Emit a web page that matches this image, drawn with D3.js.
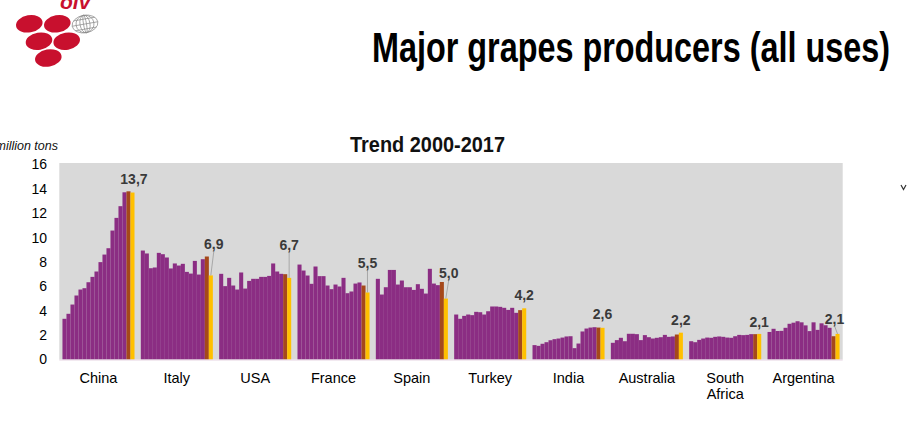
<!DOCTYPE html>
<html>
<head>
<meta charset="utf-8">
<script src="https://cdn.jsdelivr.net/npm/d3@7/dist/d3.min.js"></script>
<style>
  html, body { margin: 0; padding: 0; background: #ffffff; }
  svg { display: block; }
</style>
</head>
<body>
<svg id="chart" width="908" height="428"></svg>
<script>
// ---------- DATA ----------
const countries = ["China", "Italy", "USA", "France", "Spain", "Turkey", "India", "Australia", "South Africa", "Argentina"];
const years = [2000, 2001, 2002, 2003, 2004, 2005, 2006, 2007, 2008, 2009, 2010, 2011, 2012, 2013, 2014, 2015, 2016, 2017];
const yTicks = [0, 2, 4, 6, 8, 10, 12, 14, 16];

const china       = [3.34, 3.75, 4.51, 5.25, 5.74, 5.85, 6.34, 6.78, 7.22, 7.99, 8.61, 9.13, 10.58, 11.62, 12.58, 13.72, 13.80, 13.7];
const italy       = [8.94, 8.70, 7.49, 7.55, 8.75, 8.64, 8.37, 7.47, 7.88, 7.71, 7.85, 7.19, 7.05, 8.09, 6.97, 8.23, 8.45, 6.9];
const usa         = [7.03, 6.02, 6.70, 6.07, 5.74, 7.14, 5.82, 6.45, 6.62, 6.62, 6.78, 6.78, 6.86, 7.88, 7.22, 7.03, 7.00, 6.7];
const france      = [7.79, 7.30, 6.89, 6.21, 7.63, 6.84, 6.84, 6.07, 5.77, 6.15, 5.99, 6.70, 5.44, 5.58, 6.23, 6.32, 6.07, 5.5];
const spain       = [6.62, 5.33, 5.93, 7.35, 7.35, 6.15, 6.48, 5.93, 5.93, 5.71, 6.18, 5.80, 5.41, 7.44, 6.23, 6.10, 6.36, 5.0];
const turkey      = [3.69, 3.34, 3.58, 3.69, 3.64, 3.91, 3.88, 3.69, 3.96, 4.35, 4.35, 4.32, 4.24, 4.07, 4.24, 3.83, 4.05, 4.2];
const india       = [1.18, 1.12, 1.29, 1.42, 1.58, 1.67, 1.72, 1.80, 1.89, 1.91, 0.93, 1.31, 2.30, 2.54, 2.62, 2.65, 2.62, 2.6];
const australia   = [1.37, 1.59, 1.78, 1.50, 2.11, 2.11, 2.08, 1.59, 2.00, 1.83, 1.72, 1.78, 1.83, 2.02, 1.86, 1.89, 2.05, 2.2];
const southAfrica = [1.50, 1.42, 1.61, 1.72, 1.80, 1.78, 1.86, 1.89, 1.86, 1.80, 1.78, 1.91, 2.02, 2.00, 2.02, 2.08, 2.08, 2.1];
const argentina   = [2.26, 2.52, 2.34, 2.35, 2.60, 2.93, 3.02, 3.14, 3.05, 2.80, 2.33, 3.05, 2.43, 2.97, 2.81, 2.60, 1.91, 2.1];

const seriesByCountry = [china, italy, usa, france, spain, turkey, india, australia, southAfrica, argentina];

// ---------- LAYOUT / STYLE ----------
const plot = { left: 59.3, right: 842.7, top: 163, bottom: 359.5 };
const COL_PURPLE = "#8B2D83", COL_BROWN = "#A5481B", COL_YELLOW = "#FFC000", COL_BG = "#D9D9D9";
const FONT = "'Liberation Sans', Arial, Helvetica, sans-serif";
// label placement (layout only): horizontal nudge, lift above the 2017 bar top, leader line flag
const labelDx   = [1.5, 3, 0, 0, 3, 0, 0, 0, 0, -3];
const labelLift = [14, 31, 33, 29, 26, 13, 14, 13, 12, 15];
const labelLead = [false, true, true, true, true, false, false, false, false, true];

const svg = d3.select("#chart");

// ---------- LOGO ----------
const logo = svg.append("g");
const red = "#C8102E";
[[29.3, 23.8], [57.3, 23.8], [39, 41.2], [66.7, 41.2], [48.3, 58]].forEach(c => {
  logo.append("ellipse")
    .attr("cx", c[0]).attr("cy", c[1]).attr("rx", 13.4).attr("ry", 8.6)
    .attr("transform", `rotate(-10 ${c[0]} ${c[1]})`)
    .attr("fill", red);
});
const globe = logo.append("g").attr("fill", "none").attr("stroke", "#8a8a8a").attr("stroke-width", 0.7)
  .attr("transform", "rotate(-10 85 24)");
globe.append("ellipse").attr("cx", 85).attr("cy", 24).attr("rx", 13).attr("ry", 8.8);
[9, 5, 1.5].forEach(r => globe.append("ellipse").attr("cx", 85).attr("cy", 24).attr("rx", r).attr("ry", 8.8));
[-5, 0, 5].forEach(d => {
  const hw = 13 * Math.sqrt(1 - (d / 8.8) ** 2);
  globe.append("line").attr("x1", 85 - hw).attr("x2", 85 + hw).attr("y1", 24 + d).attr("y2", 24 + d);
});
logo.append("text").attr("x", 60).attr("y", 9)
  .attr("font-family", FONT).attr("font-style", "italic").attr("font-weight", "bold")
  .attr("font-size", 21).attr("fill", red).text("oiv");

// small mark at right edge
svg.append("path").attr("d", "M901,185 L903.5,189.5 L906,185").attr("fill", "none")
  .attr("stroke", "#333").attr("stroke-width", 1.2);

// ---------- TITLES ----------
svg.append("text").attr("x", 372).attr("y", 62)
  .attr("font-family", "'Liberation Sans Narrow', " + FONT).attr("font-weight", "bold")
  .attr("font-size", 42).attr("fill", "#000")
  .attr("textLength", 518).attr("lengthAdjust", "spacingAndGlyphs")
  .text("Major grapes producers (all uses)");

svg.append("text").attr("x", 350).attr("y", 152)
  .attr("font-family", "'Liberation Sans Narrow', " + FONT).attr("font-weight", "bold")
  .attr("font-size", 22).attr("fill", "#111")
  .attr("textLength", 155).attr("lengthAdjust", "spacingAndGlyphs")
  .text("Trend 2000-2017");

svg.append("text").attr("x", 58).attr("y", 150)
  .attr("text-anchor", "end").attr("font-family", FONT).attr("font-style", "italic")
  .attr("font-size", 12.5).attr("fill", "#111").text("million tons");

// ---------- SCALES ----------
const x = d3.scaleBand().domain(countries).range([plot.left, plot.right])
  .paddingInner(0.081).paddingOuter(0.0405);
const xi = d3.scaleBand().domain(years).range([0, x.bandwidth()]).padding(0);
const y = d3.scaleLinear().domain([0, 16]).range([plot.bottom, 164.5]);

// plot background
svg.append("rect").attr("x", plot.left).attr("y", plot.top)
  .attr("width", plot.right - plot.left).attr("height", plot.bottom - plot.top)
  .attr("fill", COL_BG);

// y axis (labels only)
const yAxis = d3.axisLeft(y).tickValues(yTicks).tickSize(0).tickPadding(0).tickFormat(d3.format("d"));
const yg = svg.append("g").attr("transform", "translate(47,0)").call(yAxis);
yg.select(".domain").remove();
yg.selectAll("text").attr("font-family", FONT).attr("font-size", 14).attr("fill", "#000");

// bars
const groups = svg.append("g").selectAll("g").data(countries).join("g")
  .attr("transform", d => `translate(${x(d)},0)`);

groups.selectAll("rect").data((d, i) => seriesByCountry[i].map((v, j) => ({ year: years[j], v, j })))
  .join("rect")
  .attr("x", d => xi(d.year))
  .attr("width", xi.bandwidth() + 0.05)
  .attr("y", d => y(d.v))
  .attr("height", d => y(0) - y(d.v))
  .attr("fill", d => d.j === 17 ? COL_YELLOW : (d.j === 16 ? COL_BROWN : COL_PURPLE));

// baseline
svg.append("line").attr("x1", plot.left).attr("x2", plot.right)
  .attr("y1", plot.bottom + 0.5).attr("y2", plot.bottom + 0.5)
  .attr("stroke", "#e6d3e2").attr("stroke-width", 1);

// value labels for 2017
const fmt = v => d3.format(".1f")(v).replace(".", ",");
countries.forEach((c, i) => {
  const v = seriesByCountry[i][17];
  const bx = x(c) + xi(2017) + xi.bandwidth() / 2;
  const lx = bx + labelDx[i];
  const ly = y(v) - labelLift[i];
  if (labelLead[i]) {
    svg.append("line").attr("x1", lx).attr("y1", ly + 7).attr("x2", bx).attr("y2", y(v))
      .attr("stroke", "#9a9a9a").attr("stroke-width", 0.8);
  }
  svg.append("text").attr("x", lx).attr("y", ly + 5)
    .attr("text-anchor", "middle").attr("font-family", FONT).attr("font-weight", "bold")
    .attr("font-size", 14).attr("fill", "#3a3a3a").text(fmt(v));
});

// category labels
const xg = svg.append("g");
countries.forEach(c => {
  const cx = x(c) + x.bandwidth() / 2;
  const t = xg.append("text").attr("x", cx).attr("y", 383)
    .attr("text-anchor", "middle").attr("font-family", FONT).attr("font-size", 14.5).attr("fill", "#000");
  const parts = c === "South Africa" ? ["South", "Africa"] : [c];
  parts.forEach((p, k) => t.append("tspan").attr("x", cx).attr("dy", k === 0 ? 0 : 16).text(p));
});
</script>
</body>
</html>
